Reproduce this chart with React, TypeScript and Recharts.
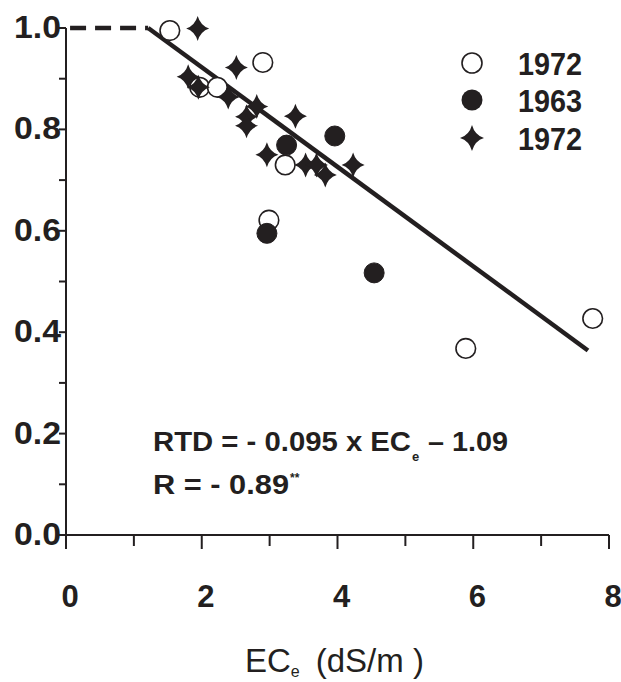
import React from 'react';
import { ScatterChart, Scatter, XAxis, YAxis, Legend, Customized } from 'recharts';

// ---- data ----
const openCircles1972 = [
  { x: 1.53, y: 0.995 },
  { x: 2.9, y: 0.932 },
  { x: 1.97, y: 0.883 },
  { x: 2.23, y: 0.883 },
  { x: 3.23, y: 0.73 },
  { x: 2.99, y: 0.621 },
  { x: 5.89, y: 0.368 },
  { x: 7.76, y: 0.427 },
];

const filledCircles1963 = [
  { x: 3.25, y: 0.769 },
  { x: 3.96, y: 0.787 },
  { x: 2.96, y: 0.595 },
  { x: 4.54, y: 0.517 },
];

const stars1972 = [
  { x: 1.94, y: 0.999 },
  { x: 2.51, y: 0.922 },
  { x: 1.8, y: 0.904 },
  { x: 1.95, y: 0.883 },
  { x: 2.39, y: 0.864 },
  { x: 2.81, y: 0.845 },
  { x: 2.66, y: 0.825 },
  { x: 2.66, y: 0.807 },
  { x: 3.38, y: 0.826 },
  { x: 2.96, y: 0.75 },
  { x: 3.53, y: 0.73 },
  { x: 3.69, y: 0.73 },
  { x: 3.82, y: 0.71 },
  { x: 4.23, y: 0.73 },
];

const plateauLine = [
  { x: 0.06, y: 1.0 },
  { x: 1.21, y: 1.0 },
];

const regressionLine = [
  { x: 1.21, y: 1.0 },
  { x: 7.69, y: 0.364 },
];

const xTicks = [0, 1, 2, 3, 4, 5, 6, 7, 8];
const yTicks = [0, 0.1, 0.2, 0.3, 0.4, 0.5, 0.6, 0.7, 0.8, 0.9, 1.0];
const legendLabels = ['1972', '1963', '1972'];
const equationText = 'RTD = - 0.095 x EC';
const equationTail = '– 1.09';
const rText = 'R = - 0.89';

// ---- styles ----
const INK = '#231f20';
const FONT = "'Liberation Sans', Arial, Helvetica, sans-serif";

const starPath = (cx: number, cy: number, rx: number, ry: number, c: number) =>
  `M${cx},${cy - ry} Q${cx + c},${cy - c} ${cx + rx},${cy} Q${cx + c},${cy + c} ${cx},${cy + ry} Q${cx - c},${cy + c} ${cx - rx},${cy} Q${cx - c},${cy - c} ${cx},${cy - ry} Z`;

const OpenCircle = (props: any) => {
  const { cx, cy } = props;
  if (cx == null || cy == null) return <g />;
  return <circle cx={cx} cy={cy} r={9.8} fill="#fff" stroke={INK} strokeWidth={1.6} />;
};

const FilledCircle = (props: any) => {
  const { cx, cy } = props;
  if (cx == null || cy == null) return <g />;
  return <circle cx={cx} cy={cy} r={10} fill={INK} stroke={INK} strokeWidth={1} />;
};

const Star = (props: any) => {
  const { cx, cy } = props;
  if (cx == null || cy == null) return <g />;
  return <path d={starPath(cx, cy, 11.5, 12.5, 2.8)} fill={INK} />;
};

const Empty = () => <g />;

const YTick = (props: any) => {
  const { x, y, payload } = props;
  const v = payload.value as number;
  const major = Math.round(v * 10) % 2 === 0;
  return (
    <g>
      <line x1={x - 7} x2={x} y1={y} y2={y} stroke={INK} strokeWidth={2} />
      {major && (
        <text
          x={x - 5}
          y={y + 10}
          textAnchor="end"
          fontFamily={FONT}
          fontWeight="bold"
          fontSize={32}
          fill={INK}
          textLength={47}
          lengthAdjust="spacingAndGlyphs"
        >
          {v.toFixed(1)}
        </text>
      )}
    </g>
  );
};

const XTick = (props: any) => {
  const { x, y, payload } = props;
  const v = payload.value as number;
  const major = v % 2 === 0;
  return (
    <g>
      <line x1={x} x2={x} y1={y} y2={y + (major ? 14 : 11)} stroke={INK} strokeWidth={2} />
      {major && (
        <text
          x={x + 4}
          y={y + 72}
          textAnchor="middle"
          fontFamily={FONT}
          fontWeight="bold"
          fontSize={31}
          fill={INK}
        >
          {String(v)}
        </text>
      )}
    </g>
  );
};

const LegendContent = () => {
  const markers = [
    <circle key="a" cx={32} cy={23} r={10} fill="#fff" stroke={INK} strokeWidth={1.6} />,
    <circle key="b" cx={32} cy={60} r={10.5} fill={INK} />,
    <path key="c" d={starPath(32, 98, 12, 13, 2.8)} fill={INK} />,
  ];
  const baselines = [35, 72, 110];
  return (
    <svg width={170} height={125} style={{ display: 'block', overflow: 'visible' }}>
      {legendLabels.map((lab, i) => (
        <g key={i}>
          {markers[i]}
          <text
            x={78}
            y={baselines[i]}
            fontFamily={FONT}
            fontWeight="bold"
            fontSize={32}
            fill={INK}
            textLength={64}
            lengthAdjust="spacingAndGlyphs"
          >
            {lab}
          </text>
        </g>
      ))}
    </svg>
  );
};

const Annotations = () => (
  <g fill={INK} fontFamily={FONT}>
    <text x={153} y={451} fontWeight="bold" fontSize={27} textLength={258} lengthAdjust="spacingAndGlyphs">
      {equationText}
    </text>
    <text x={412} y={461} fontWeight="bold" fontSize={13}>
      e
    </text>
    <text x={428} y={451} fontWeight="bold" fontSize={27} textLength={80} lengthAdjust="spacingAndGlyphs">
      {equationTail}
    </text>
    <text x={153} y={494} fontWeight="bold" fontSize={27}>
      <tspan textLength={136} lengthAdjust="spacingAndGlyphs">{rText}</tspan>
      <tspan dx={1} dy={-12} fontSize={12}>**</tspan>
    </text>
    <text x={245} y={672} fontSize={33}>
      EC
      <tspan dy={5} fontSize={16}>e</tspan>
      <tspan dx={16} dy={-5}>(dS/m )</tspan>
    </text>
  </g>
);

export default function App() {
  return (
    <div style={{ position: 'absolute', left: 0, top: 0, width: 621, height: 682, background: '#fff' }}>
      <ScatterChart width={621} height={682} margin={{ top: 28, right: 12, bottom: 0, left: 0 }}>
        <XAxis
          type="number"
          dataKey="x"
          domain={[0, 8]}
          ticks={xTicks}
          interval={0}
          height={147}
          tickSize={0}
          tickMargin={0}
          tickLine={false}
          axisLine={{ stroke: INK, strokeWidth: 2 }}
          tick={<XTick />}
        />
        <YAxis
          type="number"
          dataKey="y"
          domain={[0, 1]}
          ticks={yTicks}
          interval={0}
          width={66}
          tickSize={0}
          tickMargin={0}
          tickLine={false}
          axisLine={{ stroke: INK, strokeWidth: 2 }}
          tick={<YTick />}
        />
        <Scatter
          name="plateau"
          data={plateauLine}
          line={{ stroke: INK, strokeWidth: 4.5, strokeDasharray: '16 9' }}
          shape={<Empty />}
          legendType="none"
          isAnimationActive={false}
        />
        <Scatter
          name="fit"
          data={regressionLine}
          line={{ stroke: INK, strokeWidth: 4.5 }}
          shape={<Empty />}
          legendType="none"
          isAnimationActive={false}
        />
        <Scatter name="1972" data={openCircles1972} shape={<OpenCircle />} isAnimationActive={false} />
        <Scatter name="1963" data={filledCircles1963} shape={<FilledCircle />} isAnimationActive={false} />
        <Scatter name="1972 " data={stars1972} shape={<Star />} isAnimationActive={false} />
        <Legend
          layout="vertical"
          align="center"
          verticalAlign="middle"
          content={<LegendContent />}
          wrapperStyle={{ position: 'absolute', left: 440, top: 40, width: 170, height: 125 }}
        />
        <Customized component={<Annotations />} />
      </ScatterChart>
    </div>
  );
}
